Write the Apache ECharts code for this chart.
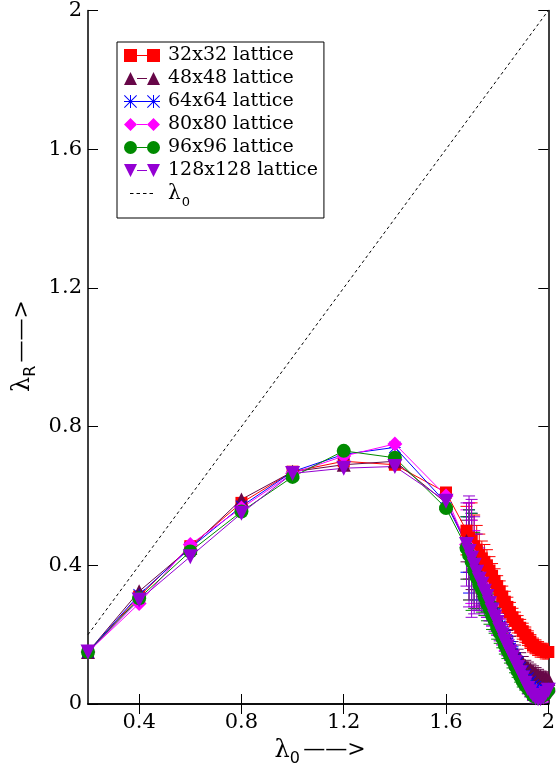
<!DOCTYPE html>
<html>
<head>
<meta charset="utf-8">
<script src="https://cdn.jsdelivr.net/npm/echarts@6/dist/echarts.min.js"></script>
<style>
html,body{margin:0;padding:0;background:#fff;}
#chart{width:558px;height:769px;}
</style>
</head>
<body>
<div id="chart"></div>
<script>
// ---------- data ----------
const X_MAIN = [0.2, 0.4, 0.6, 0.8, 1.0, 1.2, 1.4, 1.6];
const X_DENSE = [1.68,1.69,1.70,1.71,1.72,1.73,1.74,1.75,1.76,1.77,1.78,1.79,1.80,1.81,1.82,1.83,1.84,1.85,1.86,1.87,1.88,1.89,1.90,1.91,1.92,1.93,1.94,1.95,1.96,1.97,1.98,1.99,2.00];

const Y32_MAIN  = [0.15, 0.31, 0.455, 0.58, 0.67, 0.70, 0.69, 0.61];
const Y48_MAIN  = [0.15, 0.325, 0.45, 0.59, 0.67, 0.69, 0.70, 0.58];
const Y64_MAIN  = [0.15, 0.315, 0.45, 0.57, 0.67, 0.72, 0.74, 0.58];
const Y80_MAIN  = [0.15, 0.29, 0.46, 0.565, 0.665, 0.715, 0.75, 0.60];
const Y96_MAIN  = [0.15, 0.305, 0.44, 0.555, 0.655, 0.73, 0.71, 0.565];
const Y128_MAIN = [0.15, 0.30, 0.425, 0.55, 0.665, 0.68, 0.685, 0.585];

const Y32_DENSE  = [0.50,0.48,0.47,0.455,0.445,0.43,0.42,0.41,0.40,0.385,0.37,0.355,0.34,0.325,0.31,0.295,0.28,0.265,0.25,0.24,0.23,0.22,0.21,0.20,0.19,0.18,0.17,0.165,0.16,0.155,0.155,0.15,0.15];
const Y48_DENSE  = [0.47,0.45,0.43,0.41,0.39,0.37,0.355,0.34,0.32,0.30,0.285,0.27,0.25,0.235,0.22,0.205,0.19,0.175,0.16,0.15,0.14,0.13,0.12,0.11,0.105,0.10,0.095,0.09,0.085,0.08,0.078,0.075,0.072];
const Y64_DENSE  = [0.46,0.44,0.42,0.40,0.38,0.36,0.345,0.33,0.31,0.29,0.275,0.26,0.24,0.225,0.21,0.19,0.175,0.16,0.145,0.13,0.12,0.105,0.095,0.085,0.075,0.065,0.055,0.05,0.045,0.04,0.04,0.04,0.045];
const Y80_DENSE  = [0.46,0.44,0.41,0.39,0.37,0.355,0.34,0.32,0.30,0.285,0.265,0.25,0.23,0.215,0.20,0.18,0.165,0.15,0.135,0.12,0.105,0.09,0.075,0.06,0.05,0.04,0.03,0.025,0.02,0.02,0.02,0.025,0.035];
const Y96_DENSE  = [0.45,0.43,0.41,0.385,0.365,0.345,0.33,0.31,0.29,0.275,0.255,0.24,0.22,0.205,0.19,0.17,0.155,0.14,0.125,0.11,0.095,0.08,0.065,0.055,0.045,0.035,0.025,0.02,0.018,0.02,0.025,0.03,0.04];
const Y128_DENSE = [0.46,0.44,0.42,0.40,0.38,0.36,0.345,0.325,0.31,0.29,0.27,0.25,0.235,0.215,0.20,0.18,0.165,0.15,0.135,0.12,0.105,0.09,0.075,0.06,0.045,0.035,0.025,0.018,0.015,0.015,0.02,0.03,0.04];

const E32_DENSE  = [0.07,0.10,0.11,0.09,0.07,0.06,0.05,0.05,0.045,0.04,0.035,0.035,0.03,0.03,0.03,0.03,0.028,0.028,0.026,0.025,0.025,0.024,0.023,0.022,0.021,0.02,0.02,0.02,0.02,0.02,0.02,0.02,0.02];
const E48_DENSE  = [0.06,0.09,0.10,0.08,0.06,0.05,0.045,0.04,0.04,0.035,0.03,0.03,0.028,0.026,0.025,0.024,0.022,0.02,0.02,0.02,0.018,0.018,0.017,0.016,0.016,0.015,0.015,0.015,0.015,0.015,0.015,0.015,0.015];
const E64_DENSE  = [0.08,0.12,0.13,0.10,0.08,0.07,0.06,0.05,0.045,0.04,0.035,0.032,0.03,0.028,0.026,0.024,0.022,0.02,0.02,0.018,0.017,0.016,0.015,0.014,0.013,0.012,0.012,0.012,0.012,0.012,0.012,0.012,0.012];
const E80_DENSE  = [0.10,0.14,0.12,0.11,0.09,0.07,0.06,0.055,0.05,0.045,0.04,0.035,0.032,0.03,0.028,0.026,0.024,0.022,0.02,0.019,0.018,0.017,0.016,0.015,0.014,0.013,0.012,0.012,0.012,0.012,0.012,0.012,0.012];
const E96_DENSE  = [0.09,0.13,0.14,0.11,0.09,0.075,0.065,0.055,0.05,0.045,0.04,0.036,0.033,0.03,0.028,0.026,0.024,0.022,0.021,0.02,0.018,0.017,0.016,0.015,0.014,0.013,0.012,0.012,0.012,0.012,0.012,0.012,0.012];
const E128_DENSE = [0.12,0.16,0.17,0.14,0.11,0.09,0.075,0.065,0.06,0.05,0.045,0.04,0.036,0.033,0.03,0.028,0.026,0.024,0.022,0.021,0.02,0.019,0.018,0.017,0.016,0.015,0.015,0.015,0.015,0.015,0.015,0.015,0.015];

const DIAG_X = [0.2, 2.0];
const DIAG_Y = [0.2, 2.0];

const X_TICKS = [0.4, 0.8, 1.2, 1.6, 2.0];
const Y_TICKS = [0, 0.4, 0.8, 1.2, 1.6, 2.0];

const NAMES = ['32x32 lattice','48x48 lattice','64x64 lattice','80x80 lattice','96x96 lattice','128x128 lattice'];
const DIAG_NAME = 'λ0';

// ---------- styles ----------
const COLORS = ['#ff0000','#670748','#0000ff','#ff00ff','#008b00','#9400d3'];
const STAR = 'M6,0L7,0L7,13L6,13Z M0,6L13,6L13,7L0,7Z M0.7,0L13,12.3L12.3,13L0,0.7Z M12.3,0L13,0.7L0.7,13L0,12.3Z';
const SYMBOLS = ['rect','triangle','path://' + STAR,'diamond','circle','triangle'];
const SYMROT = [0,0,0,0,0,180];
const SYMSIZE = [12,14,12,15,14,15];
const LINK = 'M13,6L23,6L23,7L13,7Z';
const LEG_ICONS = [
  'path://M0,0L13,0L13,13L0,13Z ' + LINK + ' M23,0L36,0L36,13L23,13Z',
  'path://M6.5,0L13,13L0,13Z ' + LINK + ' M29.5,0L36,13L23,13Z',
  'path://M6,0L7,0L7,13L6,13Z M0,6L13,6L13,7L0,7Z M0.7,0L13,12.3L12.3,13L0,0.7Z M12.3,0L13,0.7L0.7,13L0,12.3Z ' + LINK +
    ' M29,0L30,0L30,13L29,13Z M23,6L36,6L36,7L23,7Z M23.7,0L36,12.3L35.3,13L23,0.7Z M35.3,0L36,0.7L23.7,13L23,12.3Z',
  'path://M6.5,0L13,6.5L6.5,13L0,6.5Z ' + LINK + ' M29.5,0L36,6.5L29.5,13L23,6.5Z',
  'path://M0,6.5A6.5,6.5 0 1,1 13,6.5A6.5,6.5 0 1,1 0,6.5Z ' + LINK + ' M23,6.5A6.5,6.5 0 1,1 36,6.5A6.5,6.5 0 1,1 23,6.5Z',
  'path://M0,0L13,0L6.5,13Z ' + LINK + ' M23,0L36,0L29.5,13Z'
];
const DASH_ICON = 'path://M0,0L0.01,0L0.01,0.01Z M36,13L35.99,13L35.99,12.99Z M6,6L9.5,6L9.5,7L6,7Z M12.5,6L16,6L16,7L12.5,7Z M19,6L22.5,6L22.5,7L19,7Z M25.5,6L29,6L29,7L25.5,7Z';

const YM = [Y32_MAIN,Y48_MAIN,Y64_MAIN,Y80_MAIN,Y96_MAIN,Y128_MAIN];
const YD = [Y32_DENSE,Y48_DENSE,Y64_DENSE,Y80_DENSE,Y96_DENSE,Y128_DENSE];
const ED = [E32_DENSE,E48_DENSE,E64_DENSE,E80_DENSE,E96_DENSE,E128_DENSE];

const SERIF = 'DejaVu Serif';

const series = [];
series.push({
  name: DIAG_NAME, type: 'line', data: DIAG_X.map((x,i)=>[x, DIAG_Y[i]]),
  symbol: 'none', lineStyle: {color:'#000', width: 1, type: [3,3]}, itemStyle:{color:'#000'},
  silent: true, z: 1
});
for (let k = 0; k < 6; k++) {
  const pts = X_MAIN.map((x,i)=>[x, YM[k][i]]).concat(X_DENSE.map((x,i)=>[x, YD[k][i]]));
  const errs = X_DENSE.map((x,i)=>[x, YD[k][i], ED[k][i]]);
  series.push({
    name: NAMES[k] + ' err', type: 'custom', clip: true, silent: true,
    data: errs,
    renderItem: (params, api) => {
      const x = api.value(0), y = api.value(1), e = api.value(2);
      if (!(e > 0)) return null;
      const top = api.coord([x, y + e]);
      const bot = api.coord([x, y - e]);
      const hw = 6;
      const st = {stroke: COLORS[k], lineWidth: 1};
      return {type:'group', children:[
        {type:'line', shape:{x1:top[0], y1:top[1], x2:bot[0], y2:bot[1]}, style: st},
        {type:'line', shape:{x1:top[0]-hw, y1:top[1], x2:top[0]+hw, y2:top[1]}, style: st},
        {type:'line', shape:{x1:bot[0]-hw, y1:bot[1], x2:bot[0]+hw, y2:bot[1]}, style: st}
      ]};
    }
  });
  series.push({
    name: NAMES[k], type: 'line', data: pts, clip: false,
    symbol: SYMBOLS[k], symbolSize: SYMSIZE[k], symbolRotate: SYMROT[k],
    lineStyle: {color: COLORS[k], width: 1},
    itemStyle: {color: COLORS[k]},
    silent: true
  });
}

const axisCommon = {
  axisLine: {show: true, lineStyle: {color: '#000', width: 1.5}},
  splitLine: {show: false}
};

const titleRich = {
  l: {fontFamily: SERIF, fontSize: 24, lineHeight: 26, verticalAlign: 'top', fill: '#000'},
  s: {fontFamily: 'DejaVu Sans', fontSize: 16, lineHeight: 16, verticalAlign: 'bottom', fill: '#000'},
  a: {fontFamily: SERIF, fontSize: 22, lineHeight: 28, verticalAlign: 'top', fill: '#000'}
};

const option = {
  animation: false,
  backgroundColor: '#fff',
  grid: {left: 88, right: 7, top: 10, bottom: 65, containLabel: false},
  xAxis: [
    Object.assign({}, axisCommon, {
      type: 'value', min: 0.2, max: 2.0, position: 'bottom',
      axisTick: {show: true, inside: true, length: 10, customValues: X_TICKS, lineStyle: {color:'#000', width: 1}},
      axisLabel: {show: true, customValues: X_TICKS, fontFamily: SERIF, fontSize: 21, color: '#000', margin: 8,
        formatter: v => String(v)}
    }),
    Object.assign({}, axisCommon, {
      type: 'value', min: 0.2, max: 2.0, position: 'top',
      axisTick: {show: true, inside: true, length: 10, customValues: X_TICKS, lineStyle: {color:'#000', width: 1}},
      axisLabel: {show: false}
    })
  ],
  yAxis: [
    Object.assign({}, axisCommon, {
      type: 'value', min: 0, max: 2.0, interval: 0.4, position: 'left',
      axisTick: {show: true, inside: true, length: 10, customValues: Y_TICKS, lineStyle: {color:'#000', width: 1}},
      axisLabel: {show: true, customValues: Y_TICKS, fontFamily: SERIF, fontSize: 21, color: '#000', margin: 6,
        formatter: v => String(v)}
    }),
    Object.assign({}, axisCommon, {
      type: 'value', min: 0, max: 2.0, interval: 0.4, position: 'right',
      axisTick: {show: true, inside: true, length: 10, customValues: Y_TICKS, lineStyle: {color:'#000', width: 1}},
      axisLabel: {show: false}
    })
  ],
  legend: {
    show: true, orient: 'vertical', left: 117, top: 42,
    backgroundColor: '#fff', borderColor: '#000', borderWidth: 1, borderRadius: 0,
    padding: [4, 6, 9, 7], itemGap: 4, itemWidth: 36, itemHeight: 13,
    selectedMode: false,
    data: NAMES.map((n,i)=>({name: n, icon: LEG_ICONS[i]})).concat([{name: DIAG_NAME, icon: DASH_ICON}]),
    formatter: name => name === DIAG_NAME ? '{l|λ}{s|0}' : name,
    textStyle: {
      fontFamily: SERIF, fontSize: 19, color: '#000', lineHeight: 19, padding: [0,0,0,3],
      rich: {
        l: {fontFamily: SERIF, fontSize: 20, lineHeight: 19, color: '#000', verticalAlign: 'top'},
        s: {fontFamily: 'DejaVu Sans', fontSize: 13, lineHeight: 13, color: '#000', verticalAlign: 'bottom', padding:[0,0,-6,1]}
      }
    }
  },
  graphic: [
    {
      type: 'text', x: 320, y: 753, silent: true,
      style: {text: '{l|λ}{s|0} {a|——>}', align: 'center', verticalAlign: 'middle', rich: titleRich}
    },
    {
      type: 'text', x: 25, y: 346, rotation: Math.PI / 2, silent: true,
      style: {text: '{l|λ}{s|R} {a|——>}', align: 'center', verticalAlign: 'middle', rich: titleRich}
    }
  ],
  series: series
};

const chart = echarts.init(document.getElementById('chart'), null, {renderer: 'canvas'});
chart.setOption(option);
</script>
</body>
</html>
